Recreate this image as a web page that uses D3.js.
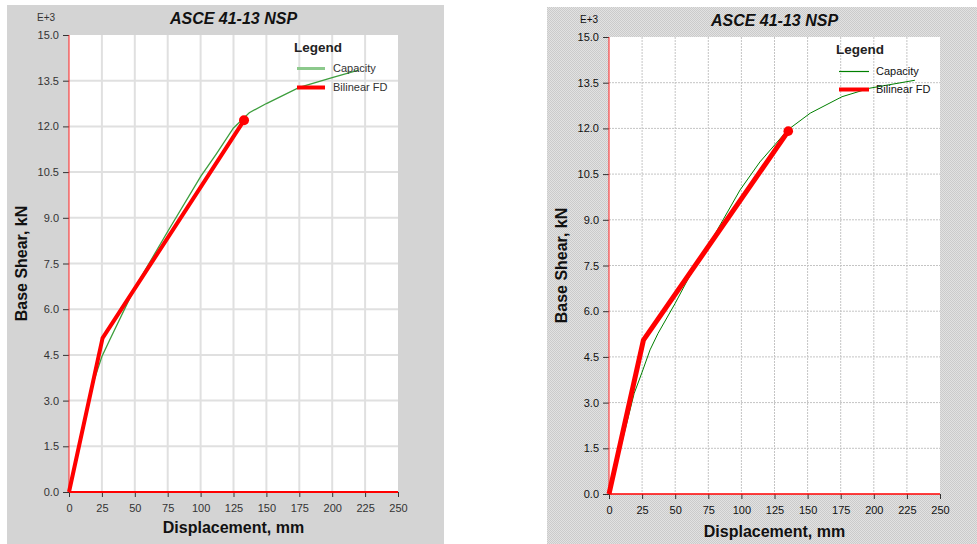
<!DOCTYPE html>
<html><head><meta charset="utf-8">
<script src="https://cdn.jsdelivr.net/npm/d3@7"></script>
<style>
body{margin:0;background:#fff;}
svg{display:block;font-family:Arial,"Liberation Sans",sans-serif;}
</style>
</head><body>
<svg id="c" width="977" height="544"></svg>
<script>
// ---- data ----
const chartTitle = "ASCE 41-13 NSP";
const xAxisTitle = "Displacement, mm";
const yAxisTitle = "Base Shear, kN";
const yExponent = "E+3";
const legendTitle = "Legend";
const seriesNames = ["Capacity", "Bilinear FD"];
const xTickValues = [0,25,50,75,100,125,150,175,200,225,250];
const yTickValues = [0,1.5,3,4.5,6,7.5,9,10.5,12,13.5,15];

// left chart
const leftCapacityX = [0,18.5,25,31,50,75,100,112,125,137,150,175,200,220];
const leftCapacityY = [0,3.6,4.45,5.0,6.7,8.55,10.35,11.1,11.95,12.45,12.75,13.28,13.6,13.85];
const leftBilinearX = [0,25.5,133];
const leftBilinearY = [0,5.05,12.2];

// right chart
const rightCapacityX = [0,19,25,31,37,50,60,75,99,114,135,152,176,197,231];
const rightCapacityY = [0,3.3,4.0,4.73,5.27,6.26,7.08,8.15,9.98,10.9,11.95,12.5,13.04,13.32,13.58];
const rightBilinearX = [0,26,135.4];
const rightBilinearY = [0,5.05,11.91];

// ---- drawing ----
const svg = d3.select("#c");
const defs = svg.append("defs");
const pat = defs.append("pattern").attr("id","hatch").attr("width",2).attr("height",2)
  .attr("patternUnits","userSpaceOnUse");
pat.append("rect").attr("width",2).attr("height",2).attr("fill","#e2e2e2");
pat.append("rect").attr("width",1).attr("height",1).attr("fill","#cbcbcb");
pat.append("rect").attr("x",1).attr("y",1).attr("width",1).attr("height",1).attr("fill","#cbcbcb");

const panels = [
  {box:[7,5,437,539], fill:"#d4d4d4", plot:{l:69,r:398,t:35,b:492},
   grid:{stroke:"#e0e0e0", w:2, dash:null}, text:"#333",
   capColor:"#3d9e3d", capW:1.3, legCapColor:"#8cc98c", legCapW:3,
   biW:4, dotR:5, botW:2, titleY:24, expY:21, expX:37, xlabY:533, ylabX:27,
   legY:52, legDY:[72,91], legLine:[297,325], legText:333, legTitleX:294,
   capX:leftCapacityX, capY:leftCapacityY, biX:leftBilinearX, biY:leftBilinearY},
  {box:[547,7,430,537], fill:"url(#hatch)", plot:{l:609,r:940,t:37,b:494},
   grid:{stroke:"#c4c4c4", w:1, dash:"2,1"}, text:"#111",
   capColor:"#008000", capW:1, legCapColor:"#008000", legCapW:1.2,
   biW:5, dotR:4.8, botW:1.5, titleY:26, expY:23, expX:580, xlabY:537, ylabX:567,
   legY:54, legDY:[75,93], legLine:[839,869], legText:876, legTitleX:836,
   capX:rightCapacityX, capY:rightCapacityY, biX:rightBilinearX, biY:rightBilinearY}
];

panels.forEach(p => {
  const g = svg.append("g");
  g.append("rect").attr("x",p.box[0]).attr("y",p.box[1]).attr("width",p.box[2]).attr("height",p.box[3])
    .attr("fill",p.fill);
  const P = p.plot;
  g.append("rect").attr("x",P.l).attr("y",P.t).attr("width",P.r-P.l).attr("height",P.b-P.t).attr("fill","#fff");

  const x = d3.scaleLinear().domain([0,250]).range([P.l,P.r]);
  const y = d3.scaleLinear().domain([0,15]).range([P.b,P.t]);

  // grid
  const gg = g.append("g");
  gg.selectAll("line.v").data(xTickValues.filter(d=>d>0 && d<250)).join("line")
    .attr("x1",d=>x(d)).attr("x2",d=>x(d)).attr("y1",P.t).attr("y2",P.b)
    .attr("stroke",p.grid.stroke).attr("stroke-width",p.grid.w).attr("stroke-dasharray",p.grid.dash);
  gg.selectAll("line.h").data(yTickValues.filter(d=>d>0 && d<15)).join("line")
    .attr("y1",d=>y(d)).attr("y2",d=>y(d)).attr("x1",P.l).attr("x2",P.r)
    .attr("stroke",p.grid.stroke).attr("stroke-width",p.grid.w).attr("stroke-dasharray",p.grid.dash);

  // axes
  const ya = g.append("g").attr("transform",`translate(${P.l},0)`)
    .call(d3.axisLeft(y).tickValues(yTickValues).tickFormat(d3.format(".1f")).tickSize(6).tickPadding(4));
  const xa = g.append("g").attr("transform",`translate(0,${P.b})`)
    .call(d3.axisBottom(x).tickValues(xTickValues).tickFormat(d3.format("d")).tickSize(5).tickPadding(7));
  [ya,xa].forEach(a => {
    a.select(".domain").remove();
    a.selectAll(".tick line").attr("stroke","#333");
    a.selectAll(".tick text").attr("fill",p.text).style("font-size","11px").style("font-family","Arial,'Liberation Sans',sans-serif");
  });
  g.append("line").attr("x1",P.l).attr("x2",P.l).attr("y1",P.t).attr("y2",P.b)
    .attr("stroke","#ff2020").attr("stroke-width",1);
  g.append("line").attr("x1",P.l).attr("x2",P.r).attr("y1",P.b).attr("y2",P.b)
    .attr("stroke","#ff0000").attr("stroke-width",p.botW);

  // series
  const line = d3.line().x(d=>x(d[0])).y(d=>y(d[1]));
  const cap = p.capX.map((v,i)=>[v,p.capY[i]]);
  const bi = p.biX.map((v,i)=>[v,p.biY[i]]);
  g.append("path").datum(cap).attr("d",line).attr("fill","none")
    .attr("stroke",p.capColor).attr("stroke-width",p.capW);
  g.append("path").datum(bi).attr("d",line).attr("fill","none")
    .attr("stroke","#ff0000").attr("stroke-width",p.biW).attr("stroke-linejoin","round");
  const last = bi[bi.length-1];
  g.append("circle").attr("cx",x(last[0])).attr("cy",y(last[1])).attr("r",p.dotR).attr("fill","#ff0000");

  // texts
  const cx = (P.l+P.r)/2;
  g.append("text").attr("x",cx).attr("y",p.titleY).attr("text-anchor","middle")
    .style("font-size","16px").style("font-weight","bold").style("font-style","italic")
    .attr("fill","#111").text(chartTitle);
  g.append("text").attr("x",p.expX).attr("y",p.expY).style("font-size","10px").attr("fill",p.text).text(yExponent);
  g.append("text").attr("x",cx).attr("y",p.xlabY).attr("text-anchor","middle")
    .style("font-size","16px").style("font-weight","bold").attr("fill","#111").text(xAxisTitle);
  g.append("text").attr("transform",`translate(${p.ylabX},${(P.t+P.b)/2}) rotate(-90)`)
    .attr("text-anchor","middle").style("font-size","16px").style("font-weight","bold")
    .attr("fill","#111").text(yAxisTitle);

  // legend
  g.append("text").attr("x",p.legTitleX).attr("y",p.legY).style("font-size","13.5px").style("font-weight","bold")
    .attr("fill","#222").text(legendTitle);
  const legStyles = [{c:p.legCapColor,w:p.legCapW},{c:"#ff0000",w:4}];
  seriesNames.forEach((n,i) => {
    const ly = p.legDY[i]-3.5;
    g.append("line").attr("x1",p.legLine[0]).attr("x2",p.legLine[1]).attr("y1",ly).attr("y2",ly)
      .attr("stroke",legStyles[i].c).attr("stroke-width",legStyles[i].w);
    g.append("text").attr("x",p.legText).attr("y",p.legDY[i]).style("font-size","11px")
      .attr("fill",p.text).text(n);
  });
});
</script>
</body></html>
